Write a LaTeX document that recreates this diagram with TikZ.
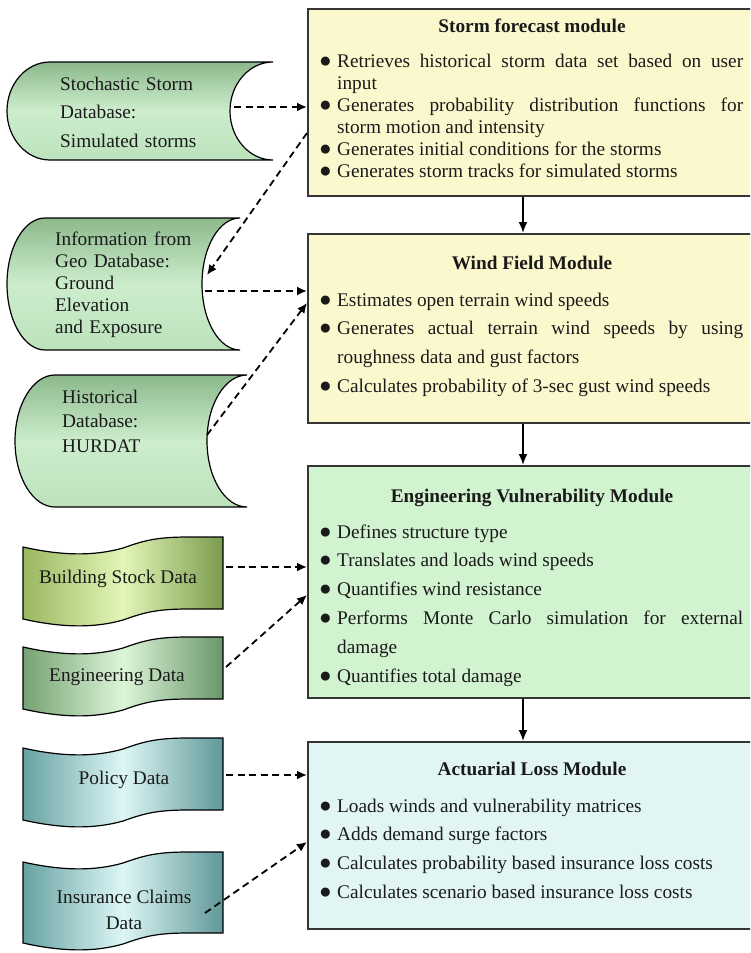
\documentclass[tikz,border=0pt]{standalone}
\usepackage{fontspec}
\setmainfont{Liberation Serif}
\usetikzlibrary{arrows.meta}

\definecolor{inkc}{HTML}{1A1A1A}
\definecolor{edgec}{HTML}{353535}
\definecolor{yellowfill}{HTML}{FCF8CE}
\definecolor{greenfill}{HTML}{D2F3CF}
\definecolor{cyanfill}{HTML}{E1F5F5}
\definecolor{cylTop}{HTML}{8CB98C}
\definecolor{cylMid}{HTML}{CDEDCD}
\definecolor{cylBot}{HTML}{BCE2BC}
\definecolor{bldL}{HTML}{9AB760}
\definecolor{bldM}{HTML}{E2F6B8}
\definecolor{bldR}{HTML}{7A9C4E}
\definecolor{engL}{HTML}{76A273}
\definecolor{engM}{HTML}{DCF5D8}
\definecolor{engR}{HTML}{6A956A}
\definecolor{polL}{HTML}{67A2A2}
\definecolor{polM}{HTML}{DDF6F6}
\definecolor{polR}{HTML}{609898}

% bullet item inside a module box (hanging indent for wrapped lines)
\newcommand\modbullet{\hangindent=18pt\hangafter=1\noindent
  \makebox[18pt][l]{\raisebox{0pt}{\fontsize{21}{21}\selectfont ●}}}

% stored-data shape: convex left side, concave right side
% #1 style, #2 left x, #3 right x, #4 top y, #5 bottom y, #6 arc x radius
\newcommand\storeddata[6]{%
  \draw[#1] (#3,#4) -- (#2+#6,#4)
    arc[start angle=270, end angle=90, x radius=#6, y radius={(#5-#4)/2}]
    -- (#3,#5)
    arc[start angle=90, end angle=270, x radius=#6, y radius={(#5-#4)/2}]
    -- cycle;}

% wavy tape shape, 200 wide: #1 style, #2 left x, #3 top y (right end), #4 height
\newcommand\tapeshape[4]{%
  \draw[#1] (#2,#3+10) .. controls (#2+40,#3+19) and (#2+72,#3+19) .. (#2+100,#3+11)
    .. controls (#2+120,#3+4) and (#2+132,#3) .. (#2+165,#3) -- (#2+200,#3)
    -- (#2+200,#3+#4) -- (#2+165,#3+#4)
    .. controls (#2+132,#3+#4) and (#2+120,#3+#4+4) .. (#2+100,#3+#4+11)
    .. controls (#2+72,#3+#4+19) and (#2+40,#3+#4+19) .. (#2,#3+#4+10) -- cycle;}

\tikzset{
  modbox/.style={draw=edgec, line width=1.8pt, anchor=north west,
    minimum width=450pt, inner sep=0pt},
  modtitle/.style={anchor=base, font=\bfseries\fontsize{19.3}{22}\selectfont, text=inkc, inner sep=0pt},
  modbody/.style={anchor=base west, text width=424pt, align=justify, inner sep=0pt, text=inkc},
  srclabel/.style={anchor=base west, text width=210pt, align=left, inner sep=0pt,
    text=inkc, font=\fontsize{19.3}{28.5}\selectfont},
  tapelabel/.style={anchor=base, align=center, inner sep=0pt, text=inkc,
    font=\fontsize{19.3}{26}\selectfont},
  shapeline/.style={draw=black, line width=1.2pt},
  feed/.style={draw=black, line width=1.8pt, dash pattern=on 7pt off 4.5pt,
    -{Latex[length=10pt,width=9pt]}},
  flow/.style={draw=black, line width=1.8pt, -{Latex[length=11pt,width=9pt]}},
}

\begin{document}
\begin{tikzpicture}[x=1pt, y=-1pt]
\useasboundingbox (0,0) rectangle (750,953);
\clip (0,0) rectangle (750,953);
\fill[white] (0,0) rectangle (750,953);

% ---------- module boxes ----------
\node[modbox, fill=yellowfill, minimum height=187pt] (m1) at (307,8) {};
\node[modbox, fill=yellowfill, minimum height=189pt] (m2) at (307,233) {};
\node[modbox, fill=greenfill,  minimum height=232pt] (m3) at (307,465) {};
\node[modbox, fill=cyanfill,   minimum height=187pt] (m4) at (307,741) {};

\node[modtitle] (t1) at (532,32) {Storm forecast module};
\node[modbody, font=\fontsize{19.3}{22}\selectfont] (b1) at (319,67) {%
\modbullet Retrieves historical storm data set based on user\linebreak input\par
\modbullet Generates probability distribution functions for\linebreak storm motion and intensity\par
\modbullet Generates initial conditions for the storms\par
\modbullet Generates storm tracks for simulated storms};

\node[modtitle] (t2) at (532,269) {Wind Field Module};
\node[modbody, font=\fontsize{19.3}{28.7}\selectfont] (b2) at (319,306) {%
\modbullet Estimates open terrain wind speeds\par
\modbullet Generates actual terrain wind speeds by using\linebreak roughness data and gust factors\par
\modbullet Calculates probability of 3-sec gust wind speeds};

\node[modtitle] (t3) at (532,502) {Engineering Vulnerability Module};
\node[modbody, font=\fontsize{19.3}{28.8}\selectfont] (b3) at (319,538) {%
\modbullet Defines structure type\par
\modbullet Translates and loads wind speeds\par
\modbullet Quantifies wind resistance\par
\modbullet Performs Monte Carlo simulation for external\linebreak damage\par
\modbullet Quantifies total damage};

\node[modtitle] (t4) at (532,775) {Actuarial Loss Module};
\node[modbody, font=\fontsize{19.3}{28.7}\selectfont] (b4) at (319,812) {%
\modbullet Loads winds and vulnerability matrices\par
\modbullet Adds demand surge factors\par
\modbullet Calculates probability based insurance loss costs\par
\modbullet Calculates scenario based insurance loss costs};

% ---------- data sources ----------
\storeddata{shapeline, top color=cylTop, bottom color=cylBot, middle color=cylMid}{7}{273}{62}{160}{43}
\node[srclabel] (s1) at (60,90) {Stochastic Storm\\Database:\\Simulated storms};

\storeddata{shapeline, top color=cylTop, bottom color=cylBot, middle color=cylMid}{7}{240}{218}{350}{38}
\node[srclabel, font=\fontsize{19.3}{22}\selectfont] (s2) at (55,245) {Information from\\Geo Database:\\Ground\\Elevation\\and Exposure};

\storeddata{shapeline, top color=cylTop, bottom color=cylBot, middle color=cylMid}{15}{247}{375}{507}{40}
\node[srclabel, font=\fontsize{19.3}{24.5}\selectfont] (s3) at (62,403) {Historical\\Database:\\HURDAT};

\tapeshape{shapeline, left color=bldL, right color=bldR, middle color=bldM}{23}{537}{72}
\node[tapelabel] (s4) at (118,583) {Building Stock Data};

\tapeshape{shapeline, left color=engL, right color=engR, middle color=engM}{23}{637}{62}
\node[tapelabel] (s5) at (117,681) {Engineering Data};

\tapeshape{shapeline, left color=polL, right color=polR, middle color=polM}{23}{738}{72}
\node[tapelabel] (s6) at (124,784) {Policy Data};

\tapeshape{shapeline, left color=polL, right color=polR, middle color=polM}{23}{852}{81}
\node[tapelabel] (s7) at (124,929) {Insurance Claims\\Data};

% ---------- connector end points on the shapes ----------
\coordinate (s1-out) at (234,107);
\coordinate (s2-in)  at (207,275);
\coordinate (s2-out) at (205,291);
\coordinate (s3-out) at (207,435);
\coordinate (s4-out) at (226,567);
\coordinate (s5-out) at (226,667);
\coordinate (s6-out) at (226,775);
\coordinate (s7-out) at (205,913);
\coordinate (m1-out) at (307,133);
\coordinate (m2-in)  at (307,303);
\coordinate (m3-in)  at (307,595);
\coordinate (m4-in)  at (307,842);
\coordinate (spine)  at (523,0);

% ---------- data feeds ----------
\draw[feed] (s1-out) -- (m1.west |- s1-out);
\draw[feed] (m1-out) -- (s2-in);
\draw[feed] (s2-out) -- (m2.west |- s2-out);
\draw[feed] (s3-out) -- (m2-in);
\draw[feed] (s4-out) -- (m3.west |- s4-out);
\draw[feed] (s5-out) -- (m3-in);
\draw[feed] (s6-out) -- (m4.west |- s6-out);
\draw[feed] (s7-out) -- (m4-in);

% ---------- module flow ----------
\draw[flow] (m1.south -| spine) -- (m2.north -| spine);
\draw[flow] (m2.south -| spine) -- (m3.north -| spine);
\draw[flow] (m3.south -| spine) -- (m4.north -| spine);
\end{tikzpicture}
\end{document}
